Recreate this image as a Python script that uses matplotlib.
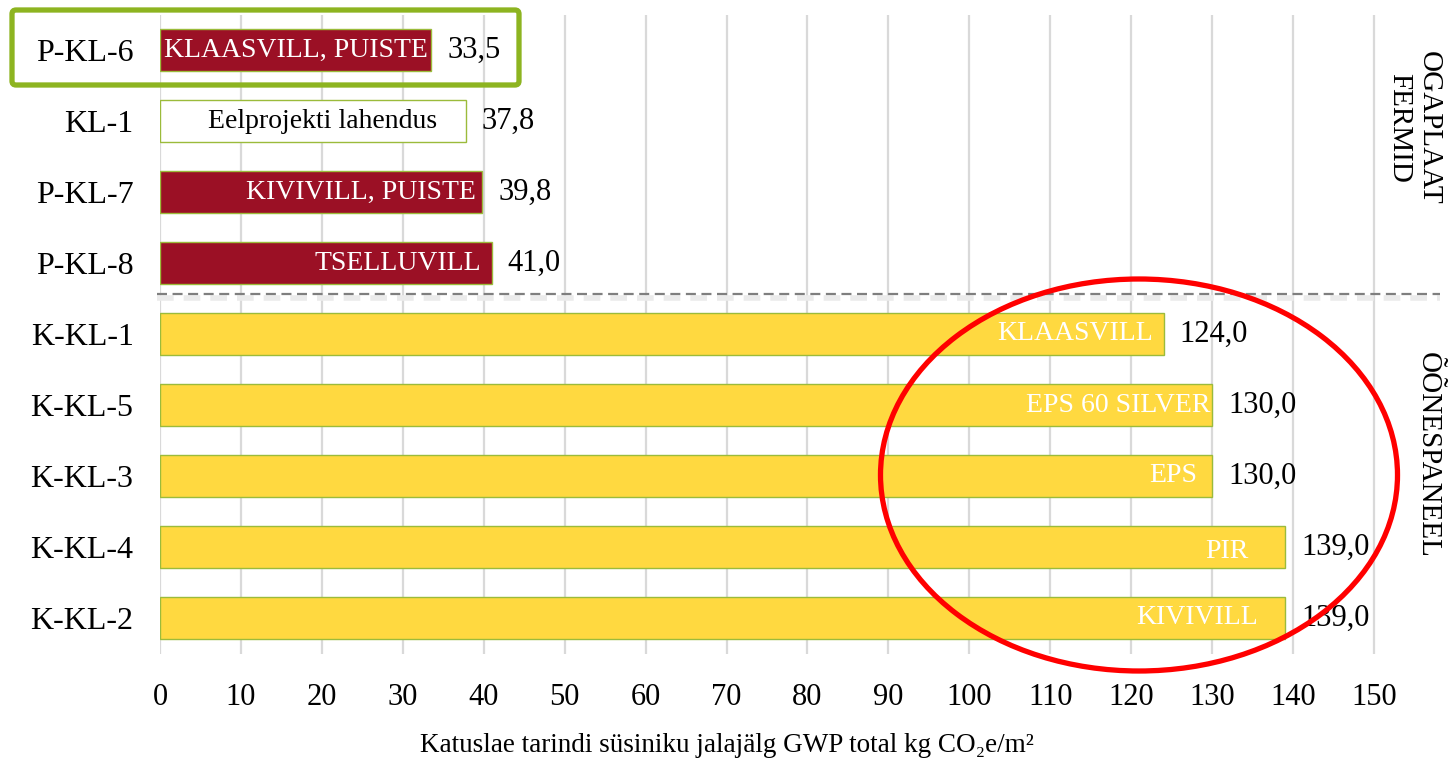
import matplotlib
matplotlib.use("Agg")
import matplotlib.pyplot as plt
from matplotlib.patches import Ellipse, FancyBboxPatch

# ---- data ----
categories = ["P-KL-6", "KL-1", "P-KL-7", "P-KL-8", "K-KL-1", "K-KL-5", "K-KL-3", "K-KL-4", "K-KL-2"]
values = [33.5, 37.8, 39.8, 41.0, 124.0, 130.0, 130.0, 139.0, 139.0]
inner_labels = ["KLAASVILL, PUISTE", "Eelprojekti lahendus", "KIVIVILL, PUISTE", "TSELLUVILL",
                "KLAASVILL", "EPS 60 SILVER", "EPS", "PIR", "KIVIVILL"]
groups = ["P", "W", "P", "P", "K", "K", "K", "K", "K"]
group_titles = ["OGAPLAAT\nFERMID", "ÕÕNESPANEEL"]
xticks = list(range(0, 151, 10))
xlabel = "Katuslae tarindi süsiniku jalajälg GWP total kg CO\u2082e/m\u00b2"

# ---- style ----
W, H = 1450, 763
SERIF = ["Liberation Serif", "DejaVu Serif"]
plt.rcParams["font.family"] = SERIF
col_map = {"P": "#9B1025", "W": "#FFFFFF", "K": "#FFD940"}
txt_col = {"P": "white", "W": "black", "K": "white"}
edge = "#9BBB3B"
# inner label right-end offsets from bar end (px)
inner_off = [-3, -29, -6, -11, -11, -2, -15, -36, -27]
inner_dy = [0, 0, 0, 0, 0, 0, 0, -4, 0]

fig = plt.figure(figsize=(W / 100, H / 100), dpi=100)
x0, x1 = 160, 1440
ytop, ybot = 14.5, 653.5
ax = fig.add_axes([x0 / W, 1 - ybot / H, (x1 - x0) / W, (ybot - ytop) / H])
ppu = (1374 - 160) / 150.0
ax.set_xlim(0, (x1 - x0) / ppu)
ax.set_ylim(len(categories) - 0.5, -0.5)

ypos = list(range(len(categories)))
colors = [col_map[g] for g in groups]
ax.barh(ypos, values, height=0.58, color=colors, edgecolor=edge, linewidth=1.0, zorder=3)

for sp in ax.spines.values():
    sp.set_visible(False)
ax.set_xticks(xticks)
ax.set_xticklabels([str(t) for t in xticks], fontsize=22)
ax.set_yticks(ypos)
ax.set_yticklabels(categories, fontsize=23)
ax.tick_params(axis="both", length=0)
ax.tick_params(axis="x", pad=21)
ax.tick_params(axis="y", pad=19)
ax.grid(axis="x", color="#D9D9D9", linewidth=1.6, zorder=0)
ax.set_axisbelow(True)

for i, (v, lab, g) in enumerate(zip(values, inner_labels, groups)):
    ax.annotate(f"{v:.1f}".replace(".", ","), xy=(v, i), xytext=(16 * 0.72, 0),
                textcoords="offset points", ha="left", va="center", fontsize=22,
                color="black", zorder=5)
    ax.annotate(lab, xy=(v, i), xytext=(inner_off[i] * 0.72, inner_dy[i] * 0.72),
                textcoords="offset points", ha="right", va="center", fontsize=20,
                color=txt_col[g], zorder=5)

# group separator
sep_y = 3 + (294 - 263) / 71.0
xs_end = (x1 - x0) / ppu
ax.plot([-0.4, xs_end], [sep_y + 0.06, sep_y + 0.06], color="#EBEBEB",
        linewidth=4, linestyle=(0, (3, 1.8)), clip_on=False, zorder=4, solid_capstyle="butt")
ax.plot([-0.4, xs_end], [sep_y, sep_y], color="#7F7F7F",
        linewidth=1.6, linestyle=(0, (4.5, 2.5)), clip_on=False, zorder=4)

# right group titles
fig.text(1414 / W, 1 - 128 / H, group_titles[0], rotation=-90, ha="center", va="center",
         fontsize=21, linespacing=1.2, multialignment="center")
fig.text(1428 / W, 1 - 455 / H, group_titles[1], rotation=-90, ha="center", va="center",
         fontsize=21)

# x label
fig.text(727 / W, 1 - 745 / H, xlabel, ha="center", va="center", fontsize=19.5)

# highlight box (green) and ellipse (red)
box = FancyBboxPatch((12 / 100, (H - 85) / 100), (519 - 12) / 100, (85 - 10) / 100,
                     boxstyle="round,pad=0,rounding_size=0.04", transform=fig.dpi_scale_trans,
                     fill=False, edgecolor="#8DB420", linewidth=3.8, zorder=10)
fig.patches.append(box)
ell = Ellipse((1139 / 100, (H - 475) / 100), 517 / 100, 392 / 100,
              transform=fig.dpi_scale_trans, fill=False, edgecolor="#FF0000",
              linewidth=3.8, zorder=10)
fig.patches.append(ell)

fig.savefig("out.png", dpi=100)
